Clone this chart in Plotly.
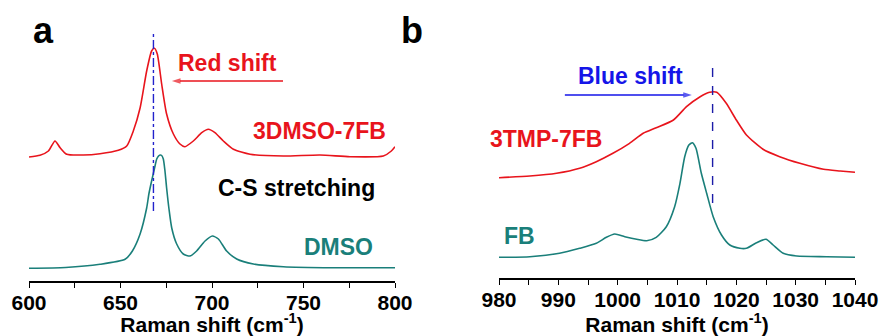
import plotly.graph_objects as go

# ---- Panel a: C-S stretching region ----
dmso_x = [600, 620, 638.8, 652.5, 656.5, 660.7, 664.3, 665.5, 667, 668.5, 669.8, 670.8,
          671.6, 672.5, 673.4, 674.3, 675.2, 676.5, 678, 680.7, 684.3, 688, 691.6, 696.2,
          700.2, 703.5, 708, 713.5, 722.6, 739, 766, 800]
dmso_y = [12.7, 13.5, 16.7, 21.7, 30, 47, 73, 87, 100, 112, 122, 125,
          126, 125.5, 122, 110, 93, 72, 53, 37, 27, 25, 30, 40,
          45, 42, 30, 22, 17, 14.3, 13.3, 13.3]

mix_a_x = [600, 606, 610.6, 614.2, 617, 620.6, 629.7, 638.8, 648.8, 653.4, 657, 660.7,
           664.3, 667, 668.5, 670.1, 672.5, 675.2, 678.9, 682.5, 685.2, 689.8, 694.4,
           698, 701.6, 706.2, 711.7, 720.8, 739, 759, 775.4, 793.6, 798, 800]
mix_a_y = [124, 125.7, 130, 140, 133.3, 126.7, 126, 127.3, 130.7, 135, 150, 173,
           210, 230, 232.7, 227, 197, 167, 147, 137, 134.3, 140, 148.3,
           151.7, 148.3, 140, 131.7, 126.7, 125, 126, 124.3, 125, 130, 134.3]

# ---- Panel b: ring breathing region ----
fb_x = [980, 985.2, 990.2, 993.6, 996.4, 998.1, 999.5, 1001.2, 1003.2, 1004.9, 1006.5,
        1008.2, 1009.6, 1010.5, 1011.3, 1012, 1012.6, 1013.2, 1014.1, 1015, 1016.1,
        1017.5, 1018.9, 1020.6, 1021.7, 1023.4, 1025, 1026.2, 1027.9, 1030.2, 1035.2, 1040]
fb_y = [20.7, 21.3, 24.7, 29.7, 34.7, 40.7, 44, 41.3, 38.7, 37.3, 40.7,
        51.3, 71.3, 94.7, 121.3, 133, 135.3, 129.7, 104.7, 84.7, 61.3,
        43, 33, 29.7, 29.7, 35.3, 38.7, 33, 24.7, 22, 21.3, 20.7]

mix_b_x = [980, 985.2, 989.7, 993.6, 996.4, 999.2, 1002, 1004.3, 1006.5, 1009.4, 1011.6,
           1013.9, 1015.5, 1016.7, 1018.3, 1020, 1021.7, 1024.5, 1027.3, 1030.7, 1034.7,
           1037.5, 1040]
mix_b_y = [100.3, 102, 104.7, 109.7, 116.3, 124.7, 134.7, 144.7, 150.3, 158, 171.3,
           181.3, 185.7, 185.7, 174.7, 158, 143, 128.7, 121.3, 114.7, 108.7,
           107, 105.7]

# Peak markers and shift arrows
peak_a = 668          # cm-1, 3DMSO-7FB C-S band
peak_b = 1016         # cm-1, 3TMP-7FB band
red_arrow_x = [738.8, 678.1]
red_arrow_y = [200, 200]
blue_arrow_x = [991.1, 1012.5]
blue_arrow_y = [183, 183]

RED = "#e8141c"
TEAL = "#1a7f7a"
BLUE = "#1515e8"
NAVY = "#1c1ca8"
FONT = "Liberation Sans, Arial, sans-serif"

fig = go.Figure()
line_kw = dict(shape="spline", smoothing=0.6, width=1.6)
fig.add_trace(go.Scatter(x=dmso_x, y=dmso_y, mode="lines", line=dict(color=TEAL, **line_kw),
                         xaxis="x", yaxis="y", showlegend=False))
fig.add_trace(go.Scatter(x=mix_a_x, y=mix_a_y, mode="lines", line=dict(color=RED, **line_kw),
                         xaxis="x", yaxis="y", showlegend=False))
fig.add_trace(go.Scatter(x=fb_x, y=fb_y, mode="lines", line=dict(color=TEAL, **line_kw),
                         xaxis="x2", yaxis="y2", showlegend=False))
fig.add_trace(go.Scatter(x=mix_b_x, y=mix_b_y, mode="lines", line=dict(color=RED, **line_kw),
                         xaxis="x2", yaxis="y2", showlegend=False))

# vertical peak guides
fig.add_trace(go.Scatter(x=[peak_a, peak_a], y=[70, 247], mode="lines",
                         line=dict(color="#2222cc", width=1.4, dash="dashdot"),
                         xaxis="x", yaxis="y", showlegend=False))
fig.add_trace(go.Scatter(x=[peak_b, peak_b], y=[75, 211], mode="lines",
                         line=dict(color=NAVY, width=1.4, dash="dash"),
                         xaxis="x2", yaxis="y2", showlegend=False))

# shift arrows drawn as a line ending in an arrow marker
for ax_x, ax_y, col, xa, ya in ((red_arrow_x, red_arrow_y, RED, "x", "y"),
                                (blue_arrow_x, blue_arrow_y, BLUE, "x2", "y2")):
    fig.add_trace(go.Scatter(x=ax_x, y=ax_y, mode="lines+markers",
                             line=dict(color=col, width=1.6),
                             marker=dict(symbol=["circle", "arrow"], size=[0, 9],
                                         color=col, angleref="previous",
                                         line=dict(width=0)),
                             xaxis=xa, yaxis=ya, showlegend=False))

W, H = 882, 336
axis_common = dict(
    showline=True, linecolor="black", linewidth=1.5, mirror=False,
    ticks="outside", ticklen=5, tickwidth=1.3, tickcolor="black",
    showgrid=False, zeroline=False, automargin=False,
    ticklabelstandoff=-3,
    tickfont=dict(family=FONT, size=21, color="black", weight="bold"),
    title=dict(text="Raman shift (cm<sup>-1</sup>)", standoff=1,
               font=dict(family=FONT, size=21, color="black", weight="bold")),
)

fig.update_layout(
    width=W, height=H,
    margin=dict(l=0, r=0, t=0, b=0),
    paper_bgcolor="white", plot_bgcolor="white",
    xaxis=dict(domain=[29 / W, 395 / W], range=[600, 800], tick0=600, dtick=50,
               minor=dict(dtick=25, ticks="outside", ticklen=5, tickwidth=1.3, tickcolor="black"),
               anchor="y", **axis_common),
    yaxis=dict(domain=[55 / H, 1], range=[0, 281], visible=False, anchor="x"),
    xaxis2=dict(domain=[499 / W, 855 / W], range=[980, 1040], tick0=980, dtick=10,
                minor=dict(dtick=5, ticks="outside", ticklen=5, tickwidth=1.3, tickcolor="black"),
                anchor="y2", **axis_common),
    yaxis2=dict(domain=[58 / H, 1], range=[0, 278], visible=False, anchor="x2"),
)

def label(text, x, y, color, xref="x", yref="y", size=23, xanchor="center"):
    fig.add_annotation(text=text, x=x, y=y, xref=xref, yref=yref, showarrow=False,
                       xanchor=xanchor, yanchor="middle",
                       font=dict(family=FONT, size=size, color=color, weight="bold"))

# panel a labels
label("Red shift", 708.2, 218, RED)
label("3DMSO-7FB", 796.2, 150, RED, xanchor="right")
label("C-S stretching", 746.4, 93, "black")
label("DMSO", 769.1, 34, TEAL)
# panel b labels
label("Blue shift", 1002.2, 202, BLUE, xref="x2", yref="y2")
label("3TMP-7FB", 988.0, 139, RED, xref="x2", yref="y2")
label("FB", 983.5, 42, TEAL, xref="x2", yref="y2")

# panel letters
for letter, px in (("a", 43), ("b", 412)):
    fig.add_annotation(text=letter, x=px / W, y=1 - 30 / H, xref="paper", yref="paper",
                       showarrow=False, xanchor="center", yanchor="middle",
                       font=dict(family=FONT, size=36, color="black", weight="bold"))

fig.write_html("out.html")
